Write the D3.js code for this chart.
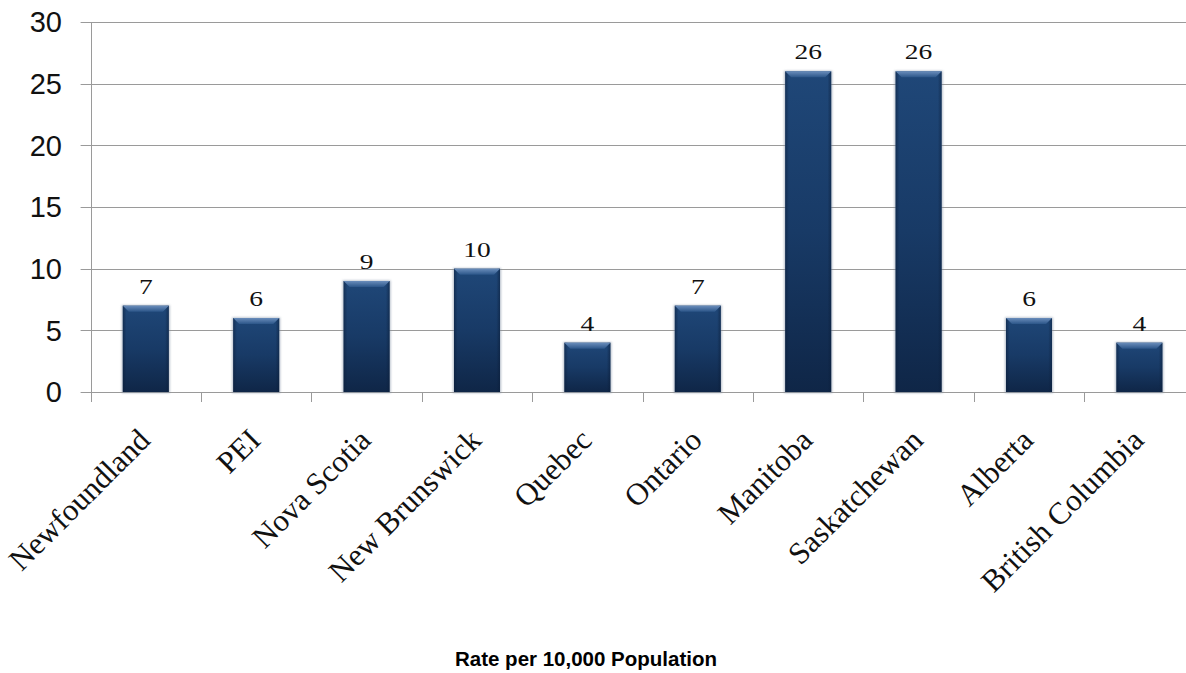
<!DOCTYPE html>
<html>
<head>
<meta charset="utf-8">
<script src="https://cdn.jsdelivr.net/npm/d3@7/dist/d3.min.js"></script>
<style>
  html, body { margin: 0; padding: 0; background: #ffffff; }
  svg { display: block; }
</style>
</head>
<body>
<svg id="chart" width="1186" height="673"></svg>
<script>
// Provincial rates per 10,000 population
const provinces = ["Newfoundland", "PEI", "Nova Scotia", "New Brunswick", "Quebec",
                   "Ontario", "Manitoba", "Saskatchewan", "Alberta", "British Columbia"];
const rates = [7, 6, 9, 10, 4, 7, 26, 26, 6, 4];
const yTicks = [0, 5, 10, 15, 20, 25, 30];
const axisTitle = "Rate per 10,000 Population";

const svg = d3.select("#chart");

const plot = { left: 90.6, right: 1194.6, top: 22, bottom: 392 };

const pad = 1 - 46 / 110.4;
const x = d3.scaleBand()
  .domain(provinces)
  .range([plot.left, plot.right])
  .paddingInner(pad)
  .paddingOuter(pad / 2);

const y = d3.scaleLinear().domain([0, 30]).range([plot.bottom, plot.top]);

// Gradients for the bevelled bars
const defs = svg.append("defs");
const body = defs.append("linearGradient").attr("id", "barBody")
  .attr("x1", 0).attr("y1", 0).attr("x2", 0).attr("y2", 1);
body.append("stop").attr("offset", "0%").attr("stop-color", "#1f4778");
body.append("stop").attr("offset", "50%").attr("stop-color", "#183a66");
body.append("stop").attr("offset", "100%").attr("stop-color", "#0f2647");

const side = defs.append("linearGradient").attr("id", "barSide")
  .attr("x1", 0).attr("y1", 0).attr("x2", 1).attr("y2", 0);
side.append("stop").attr("offset", "0%").attr("stop-color", "#0b1e3a").attr("stop-opacity", 0.55);
side.append("stop").attr("offset", "8%").attr("stop-color", "#0b1e3a").attr("stop-opacity", 0);
side.append("stop").attr("offset", "92%").attr("stop-color", "#0b1e3a").attr("stop-opacity", 0);
side.append("stop").attr("offset", "100%").attr("stop-color", "#0b1e3a").attr("stop-opacity", 0.55);

const bevel = defs.append("linearGradient").attr("id", "barTop")
  .attr("x1", 0).attr("y1", 0).attr("x2", 0).attr("y2", 1);
bevel.append("stop").attr("offset", "0%").attr("stop-color", "#6a8dbb");
bevel.append("stop").attr("offset", "100%").attr("stop-color", "#2c5689");

const shadow = defs.append("filter").attr("id", "soft")
  .attr("x", "-20%").attr("y", "-5%").attr("width", "140%").attr("height", "110%");
shadow.append("feGaussianBlur").attr("stdDeviation", 1.2);

// Horizontal gridlines with small outer ticks on the left
svg.append("g").selectAll("line.grid")
  .data(yTicks)
  .join("line")
  .attr("class", "grid")
  .attr("x1", plot.left - 10)
  .attr("x2", plot.right)
  .attr("y1", d => Math.round(y(d)) + 0.5)
  .attr("y2", d => Math.round(y(d)) + 0.5)
  .attr("stroke", "#9a9a9a")
  .attr("stroke-width", 1);

// Y axis line
svg.append("line")
  .attr("x1", Math.round(plot.left) + 0.5).attr("x2", Math.round(plot.left) + 0.5)
  .attr("y1", y(30)).attr("y2", plot.bottom + 10)
  .attr("stroke", "#9a9a9a");

// Category boundary ticks below the baseline
const bounds = d3.range(provinces.length + 1).map(i => plot.left + i * x.step());
svg.append("g").selectAll("line")
  .data(bounds.slice(1))
  .join("line")
  .attr("x1", d => Math.round(d) + 0.5)
  .attr("x2", d => Math.round(d) + 0.5)
  .attr("y1", plot.bottom)
  .attr("y2", plot.bottom + 10)
  .attr("stroke", "#9a9a9a");

// Y tick labels
svg.append("g").selectAll("text")
  .data(yTicks)
  .join("text")
  .attr("x", 62)
  .attr("y", d => y(d))
  .attr("dy", "0.36em")
  .attr("text-anchor", "end")
  .attr("font-family", "Liberation Sans, Arial, sans-serif")
  .attr("font-size", 29)
  .attr("fill", "#111")
  .text(d => d);

// Bars
const bars = svg.append("g").selectAll("g.bar")
  .data(provinces.map((p, i) => ({ p, v: rates[i] })))
  .join("g")
  .attr("class", "bar");

bars.append("rect")
  .attr("x", d => x(d.p) - 1)
  .attr("y", d => y(d.v) - 0.5)
  .attr("width", x.bandwidth() + 2)
  .attr("height", d => y(0) - y(d.v) + 1.5)
  .attr("fill", "#7f8ea3")
  .attr("opacity", 0.6)
  .attr("filter", "url(#soft)");

bars.append("rect")
  .attr("x", d => x(d.p))
  .attr("y", d => y(d.v))
  .attr("width", x.bandwidth())
  .attr("height", d => y(0) - y(d.v))
  .attr("fill", "url(#barBody)");

bars.append("rect")
  .attr("x", d => x(d.p))
  .attr("y", d => y(d.v))
  .attr("width", x.bandwidth())
  .attr("height", d => y(0) - y(d.v))
  .attr("fill", "url(#barSide)");

bars.append("path")
  .attr("d", d => {
    const x0 = x(d.p), x1 = x0 + x.bandwidth(), t = y(d.v), b = 6;
    return `M${x0},${t}L${x1},${t}L${x1 - b},${t + b}L${x0 + b},${t + b}Z`;
  })
  .attr("fill", "url(#barTop)");

// Value labels above bars
bars.append("text")
  .attr("transform", d => `translate(${x(d.p) + x.bandwidth() / 2},${y(d.v) - 12}) scale(1.25,1)`)
  .attr("text-anchor", "middle")
  .attr("font-family", "Liberation Serif, Times New Roman, serif")
  .attr("font-size", 22)
  .attr("fill", "#111")
  .text(d => d.v);

// Rotated category labels
svg.append("g").selectAll("text")
  .data(provinces)
  .join("text")
  .attr("transform", d => `translate(${x(d) + x.bandwidth() / 2 + 6},${442}) rotate(-45)`)
  .attr("text-anchor", "end")
  .attr("font-family", "Liberation Serif, Times New Roman, serif")
  .attr("font-size", 31)
  .attr("fill", "#111")
  .text(d => d);

// Axis title
svg.append("text")
  .attr("x", 586)
  .attr("y", 666)
  .attr("text-anchor", "middle")
  .attr("font-family", "Liberation Sans, Arial, sans-serif")
  .attr("font-weight", "bold")
  .attr("font-size", 20.5)
  .attr("fill", "#000")
  .text(axisTitle);
</script>
</body>
</html>
